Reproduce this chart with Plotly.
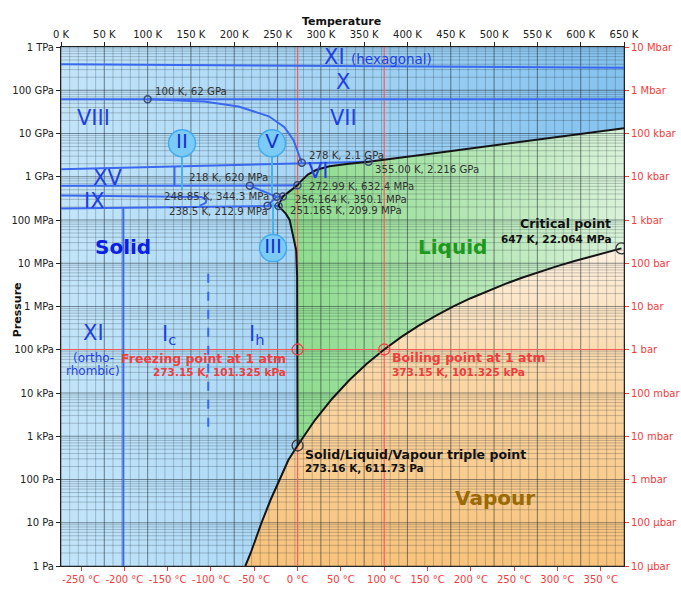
import numpy as np
import plotly.graph_objects as go

# ---- data (T in K, P in Pa) ----
sub_T = [212.8, 219.0, 231.5, 242.0, 252.5, 262.5, 273.16]
sub_P = [1.0, 2.0, 10.0, 34.0, 100.0, 282.0, 611.73]

vap_T = [273.16, 293, 313, 333, 353, 373.15, 393, 413, 433, 453, 473,
         493, 513, 533, 553, 573, 593, 613, 633, 647]
vap_P = [611.73, 2339, 7384, 19946, 47414, 101325, 198700, 361500, 618000,
         1.003e6, 1.555e6, 2.320e6, 3.347e6, 4.692e6, 6.417e6, 8.588e6,
         11.28e6, 14.60e6, 18.67e6, 22.064e6]

melt_Ih_T = [273.16, 273.15, 273.05, 272.6, 271.5, 267.5, 264.0, 259.5, 255.5, 251.165]
melt_Ih_P = [611.73, 101325, 1e6, 5e6, 2e7, 5e7, 1e8, 1.4e8, 1.75e8, 209.9e6]
melt_III_T = [251.165, 252.5, 254.5, 256.164]
melt_III_P = [209.9e6, 250e6, 300e6, 350.1e6]
melt_V_T = [256.164, 262.0, 268.0, 272.99]
melt_V_P = [350.1e6, 430e6, 530e6, 632.4e6]
melt_VI_T = [272.99, 276, 280, 285, 295, 310, 330, 355.0]
melt_VI_P = [632.4e6, 0.75e9, 0.92e9, 1.12e9, 1.45e9, 1.74e9, 1.98e9, 2.216e9]
melt_VII_T = [355.0, 440, 515, 590, 650]
melt_VII_P = [2.216e9, 3.7e9, 5.8e9, 9.2e9, 13.2e9]

# ice / ice boundaries
hex_T, hex_P = [0, 650], [400e9, 330e9]
X_T, X_P = [0, 650], [62e9, 62e9]
VII_VIII_T = [100, 165, 205, 240, 258, 268.5, 274, 278]
VII_VIII_P = [62e9, 55e9, 42e9, 25e9, 14e9, 7e9, 3.5e9, 2.1e9]
VIII_XV_T, VIII_XV_P = [0, 278, 355], [1.5e9, 2.1e9, 2.216e9]
XV_VI_T, XV_VI_P = [131, 131], [620e6, 1.7e9]
II_VI_T, II_VI_P = [0, 218, 272.99], [620e6, 620e6, 632.4e6]
II_IX_T = [0, 150, 162, 168, 167, 160]
II_IX_P = [370e6, 350e6, 340e6, 300e6, 250e6, 212e6]
Ih_II_T, Ih_II_P = [0, 238.5, 251.165], [185e6, 212.9e6, 209.9e6]
II_V_T, II_V_P = [218, 248.85], [620e6, 344.3e6]
II_III_T, II_III_P = [248.85, 238.5], [344.3e6, 212.9e6]
III_V_T, III_V_P = [248.85, 256.164], [344.3e6, 350.1e6]
XI_Ih_T, XI_Ih_P = [72, 72], [1.0, 190e6]
Ic_Ih_T, Ic_Ih_P = [170, 170], [1.65e3, 7.8e6]

# marked points
ice_pts_T = [100, 278, 355.0, 218, 272.99, 248.85, 256.164, 238.5, 251.165]
ice_pts_P = [62e9, 2.1e9, 2.216e9, 620e6, 632.4e6, 344.3e6, 350.1e6, 212.9e6, 209.9e6]
ice_pts_txt = ["100 K, 62 GPa", "278 K, 2.1 GPa", "355.00 K, 2.216 GPa",
               "218 K, 620 MPa", "272.99 K, 632.4 MPa", "248.85 K, 344.3 MPa",
               "256.164 K, 350.1 MPa", "238.5 K, 212.9 MPa", "251.165 K, 209.9 MPa"]
freeze_T, boil_T, atm_P = 273.15, 373.15, 101325
triple = (273.16, 611.73)
critical = (647, 22.064e6)

# axis ticks
K_ticks = list(range(0, 651, 50))
C_ticks = list(range(-250, 351, 50))
P_ticks = [10.0 ** k for k in range(13)]
Pa_text = ["1 Pa", "10 Pa", "100 Pa", "1 kPa", "10 kPa", "100 kPa", "1 MPa",
           "10 MPa", "100 MPa", "1 GPa", "10 GPa", "100 GPa", "1 TPa"]
bar_text = ["10 µbar", "100 µbar", "1 mbar", "10 mbar", "100 mbar", "1 bar",
            "10 bar", "100 bar", "1 kbar", "10 kbar", "100 kbar", "1 Mbar", "10 Mbar"]

T_MAX, P_MIN, P_MAX = 650, 1.0, 1e12
RED = "#f23c3c"
BLUE = "#3a68ee"
FONT = "DejaVu Sans"


def join(*segs):
    xs, ys = [], []
    for T, P in segs:
        xs += list(T) + [None]
        ys += list(P) + [None]
    return xs, ys


fig = go.Figure()

# solid background
fig.add_trace(go.Scatter(
    x=[0, T_MAX, T_MAX, 0], y=[P_MIN, P_MIN, P_MAX, P_MAX], fill="toself", mode="none",
    fillgradient=dict(type="horizontal", colorscale=[[0, "#c3e5fa"], [1, "#84c2ef"]]),
    hoverinfo="skip"))

# liquid
liq_T = (melt_Ih_T + melt_III_T[1:] + melt_V_T[1:] + melt_VI_T[1:] + melt_VII_T[1:]
         + [T_MAX] + vap_T[::-1])
liq_P = (melt_Ih_P + melt_III_P[1:] + melt_V_P[1:] + melt_VI_P[1:] + melt_VII_P[1:]
         + [vap_P[-1]] + vap_P[::-1])
fig.add_trace(go.Scatter(
    x=liq_T, y=liq_P, fill="toself", mode="none",
    fillgradient=dict(type="horizontal", colorscale=[[0, "#8bdb8b"], [0.5, "#afe5af"], [1, "#d9f2d9"]]),
    hoverinfo="skip"))

# vapour
vapr_T = sub_T + vap_T[1:] + [T_MAX, T_MAX]
vapr_P = sub_P + vap_P[1:] + [vap_P[-1], P_MIN]
fig.add_trace(go.Scatter(
    x=vapr_T, y=vapr_P, fill="toself", mode="none",
    fillgradient=dict(type="vertical", colorscale=[[0, "#f8c37c"], [0.6, "#fbd7a6"], [1, "#fdf0e0"]]),
    hoverinfo="skip"))

# grid lines (drawn over the fills)
vmin = [t for t in range(0, T_MAX + 1, 10) if t % 50]
hmin = [m * 10.0 ** k for k in range(12) for m in range(2, 10)]
gx, gy = join(*[([t, t], [P_MIN, P_MAX]) for t in vmin], *[([0, T_MAX], [p, p]) for p in hmin])
fig.add_trace(go.Scatter(x=gx, y=gy, mode="lines", line=dict(color="rgba(30,40,50,0.27)", width=0.9),
                         hoverinfo="skip"))
gx, gy = join(*[([t, t], [P_MIN, P_MAX]) for t in K_ticks], *[([0, T_MAX], [p, p]) for p in P_ticks])
fig.add_trace(go.Scatter(x=gx, y=gy, mode="lines", line=dict(color="rgba(30,40,50,0.5)", width=1.1),
                         hoverinfo="skip"))

# 1 atm reference lines
rx, ry = join(([freeze_T, freeze_T], [P_MIN, P_MAX]), ([boil_T, boil_T], [P_MIN, P_MAX]),
              ([0, T_MAX], [atm_P, atm_P]))
fig.add_trace(go.Scatter(x=rx, y=ry, mode="lines", line=dict(color="#ff5a5a", width=1.2),
                         hoverinfo="skip"))

# ice-ice boundaries
bx, by = join((hex_T, hex_P), (X_T, X_P), (VII_VIII_T, VII_VIII_P), (VIII_XV_T, VIII_XV_P),
              (XV_VI_T, XV_VI_P), (II_VI_T, II_VI_P), (II_IX_T, II_IX_P), (Ih_II_T, Ih_II_P),
              (II_V_T, II_V_P), (II_III_T, II_III_P), (III_V_T, III_V_P), (XI_Ih_T, XI_Ih_P))
fig.add_trace(go.Scatter(x=bx, y=by, mode="lines", line=dict(color=BLUE, width=2), hoverinfo="skip"))
fig.add_trace(go.Scatter(x=Ic_Ih_T, y=Ic_Ih_P, mode="lines", line=dict(color=BLUE, width=2, dash="dash"),
                         hoverinfo="skip"))

# label bubbles for II, V, III
bub_T = [139.7, 243.6, 244.8]
bub_P = [10 ** 9.775, 10 ** 9.775, 10 ** 7.35]
stick_end_P = [10 ** 8.69, 10 ** 8.6, 10 ** 8.4]
sx, sy = join(*[([t, t], [p0, p1]) for t, p0, p1 in zip(bub_T, bub_P, stick_end_P)])
fig.add_trace(go.Scatter(x=sx, y=sy, mode="lines", line=dict(color="#45b2f5", width=2), hoverinfo="skip"))
fig.add_trace(go.Scatter(
    x=bub_T, y=bub_P, mode="markers+text", text=["II", "V", "III"], textposition="middle center",
    textfont=dict(family=FONT, size=20, color="#1432d8"),
    marker=dict(size=27, color="#7ccbf6", line=dict(color="#43aaf0", width=1.5)), hoverinfo="skip"))

# phase boundaries with liquid / vapour
kx, ky = join((sub_T + vap_T[1:], sub_P + vap_P[1:]),
              (melt_Ih_T + melt_III_T[1:] + melt_V_T[1:] + melt_VI_T[1:] + melt_VII_T[1:],
               melt_Ih_P + melt_III_P[1:] + melt_V_P[1:] + melt_VI_P[1:] + melt_VII_P[1:]))
fig.add_trace(go.Scatter(x=kx, y=ky, mode="lines", line=dict(color="#151515", width=2), hoverinfo="skip"))

# points
fig.add_trace(go.Scatter(x=ice_pts_T, y=ice_pts_P, mode="markers",
                         marker=dict(symbol="circle-open", size=7, color="#3b4a78", line=dict(width=1.5)),
                         hoverinfo="skip"))
fig.add_trace(go.Scatter(x=[freeze_T, boil_T], y=[atm_P, atm_P], mode="markers",
                         marker=dict(symbol="circle-open", size=11, color="#f04040", line=dict(width=1.3)),
                         hoverinfo="skip"))
fig.add_trace(go.Scatter(x=[triple[0], critical[0]], y=[triple[1], critical[1]], mode="markers",
                         marker=dict(symbol="circle-open", size=11, color="#333", line=dict(width=1.3)),
                         hoverinfo="skip"))

# dummy trace so the secondary axes get drawn
fig.add_trace(go.Scatter(x=[0], y=[P_MIN], xaxis="x2", yaxis="y2", mode="markers",
                         marker=dict(opacity=0), hoverinfo="skip"))

ann = []


def note(T, logP, text, size, color, anchor="center", bold=False, **kw):
    if bold:
        text = "<b>" + text + "</b>"
    ann.append(dict(x=T, y=logP, xref="x", yref="y", text=text, showarrow=False,
                    xanchor=anchor, yanchor="middle",
                    font=dict(family=FONT, size=size, color=color), **kw))


PH = "#1f3fe6"
note(315.8, 11.76, "XI", 21, PH)
note(332.5, 11.72, "(hexagonal)", 13.5, PH, anchor="left")
note(325.6, 11.18, "X", 21, PH)
note(325.6, 10.35, "VII", 21, PH)
note(37, 10.35, "VIII", 21, PH)
note(297, 9.13, "VI", 21, PH)
note(54, 8.97, "XV", 21, PH)
note(39, 8.44, "IX", 21, PH)
note(37, 5.39, "XI", 21, PH)
note(37.3, 4.81, "(ortho-", 12, PH)
note(37.3, 4.51, "rhombic)", 12, PH)
note(124.7, 5.34, "I<sub>c</sub>", 21, PH)
note(226, 5.34, "I<sub>h</sub>", 21, PH)
note(71.6, 7.37, "Solid", 20, "#0a1ee6", bold=True)
note(451.5, 7.37, "Liquid", 20, "#1b9a1b", bold=True)
note(501, 1.57, "Vapour", 20, "#9a6a05", bold=True)

note(262, 4.79, "Freezing point at 1 atm", 12.5, RED, anchor="right", bold=True)
note(262, 4.49, "273.15 K, 101.325 kPa", 10.5, RED, anchor="right", bold=True)
note(380, 4.81, "Boiling point at 1 atm", 12.5, RED, anchor="left", bold=True)
note(380, 4.48, "373.15 K, 101.325 kPa", 10.5, RED, anchor="left", bold=True)
note(637, 7.92, "Critical point", 12.5, "#111", anchor="right", bold=True)
note(637, 7.55, "647 K, 22.064 MPa", 10.5, "#111", anchor="right", bold=True)
note(279.5, 2.57, "Solid/Liquid/Vapour triple point", 12.5, "#111", anchor="left", bold=True)
note(279.5, 2.27, "273.16 K, 611.73 Pa", 10.5, "#111", anchor="left", bold=True)

pt_pos = [(105.8, 10.98), (283.6, 9.50), (360.6, 9.175), (145.8, 8.98), (284.4, 8.765),
          (117, 8.534), (267.5, 8.48), (122.7, 8.203), (262.5, 8.226)]
for (t, lp), txt in zip(pt_pos, ice_pts_txt):
    note(t, lp, txt, 10.2, "#333", anchor="left")

ann.append(dict(x=0.499, y=1.05, xref="paper", yref="paper", text="<b>Temperature</b>",
                showarrow=False, xanchor="center", yanchor="middle",
                font=dict(family=FONT, size=11, color="#111")))
ann.append(dict(x=-0.078, y=0.493, xref="paper", yref="paper", text="<b>Pressure</b>",
                showarrow=False, textangle=-90, xanchor="center", yanchor="middle",
                font=dict(family=FONT, size=11, color="#111")))

tick_font = dict(family=FONT, size=10)
axis_common = dict(ticks="outside", ticklen=4, showgrid=False, zeroline=False, automargin=False,
                   showline=True, linecolor="#222", linewidth=1)
fig.update_layout(
    width=681, height=605, margin=dict(l=61, r=57, t=47, b=39, autoexpand=False),
    paper_bgcolor="white", plot_bgcolor="white", showlegend=False,
    font=dict(family=FONT, size=10, color="#222"),
    annotations=ann,
    xaxis=dict(range=[0, T_MAX], tickvals=[c + 273.15 for c in C_ticks],
               ticktext=[f"{c} °C" for c in C_ticks], tickfont=dict(color=RED, **tick_font),
               tickcolor=RED, **axis_common),
    xaxis2=dict(range=[0, T_MAX], overlaying="x", side="top", tickvals=K_ticks,
                ticktext=[f"{k} K" for k in K_ticks], tickfont=dict(color="#222", **tick_font),
                tickcolor="#222", **axis_common),
    yaxis=dict(type="log", range=[0, 12], tickvals=P_ticks, ticktext=Pa_text,
               tickfont=dict(color="#222", **tick_font), tickcolor="#222", **axis_common),
    yaxis2=dict(type="log", range=[0, 12], overlaying="y", side="right", tickvals=P_ticks,
                ticktext=bar_text, tickfont=dict(color=RED, **tick_font), tickcolor=RED,
                **axis_common),
)

# drop the page's default body margin so the figure fills the window exactly
fig.write_html("out.html", config={"displayModeBar": False},
               post_script="document.body.style.margin = '0px';")
